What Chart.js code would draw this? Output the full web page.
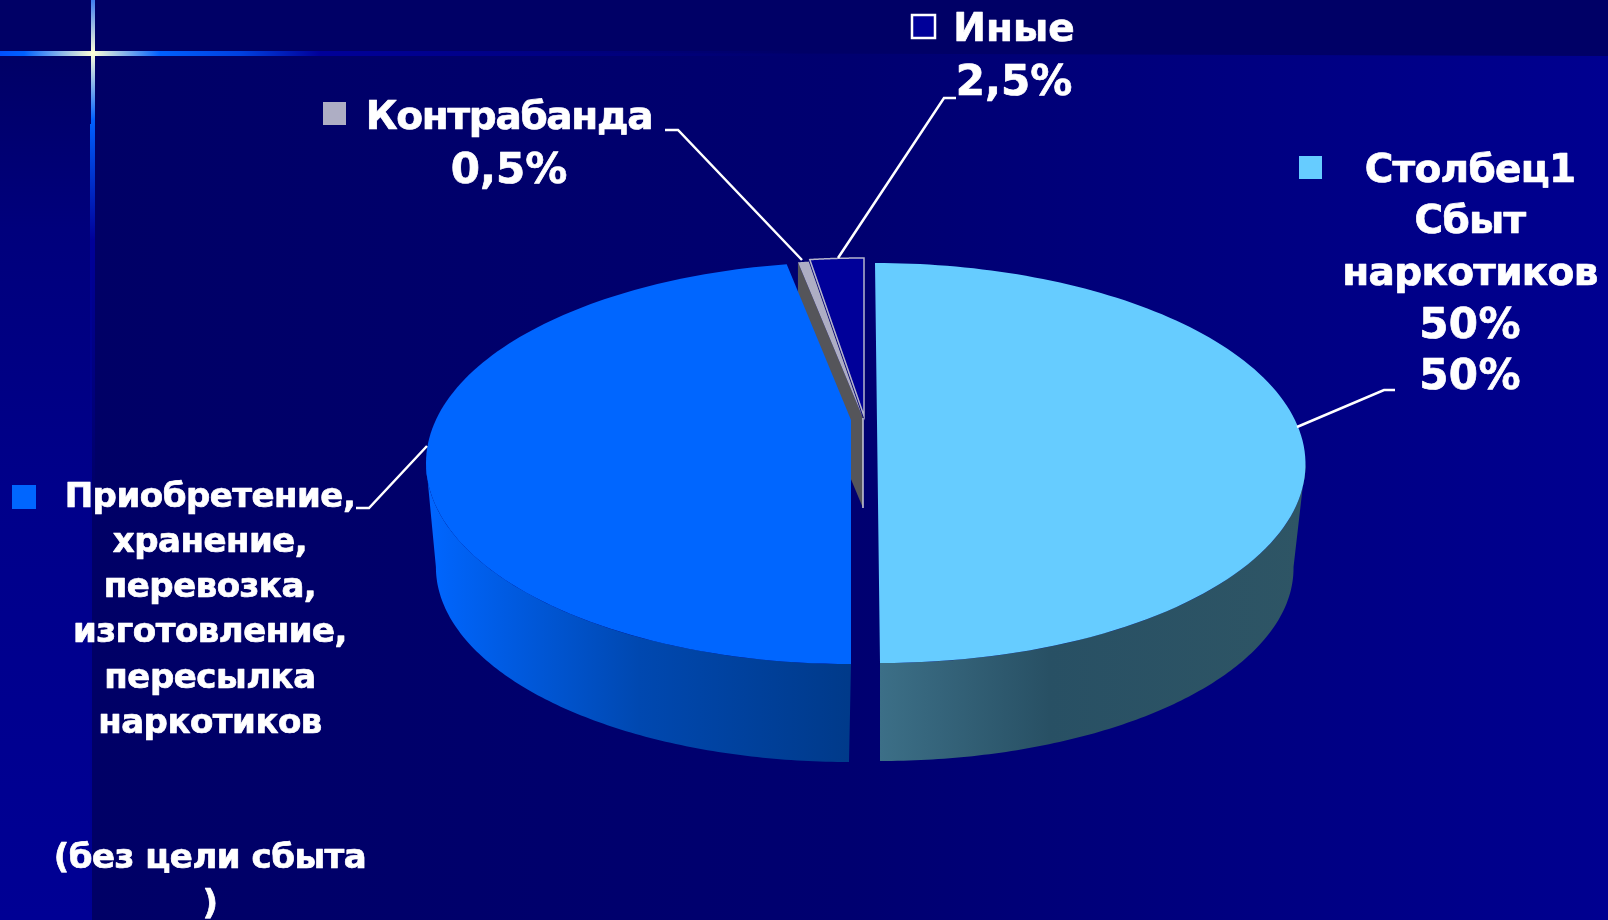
<!DOCTYPE html>
<html>
<head>
<meta charset="utf-8">
<style>
  html, body { margin: 0; padding: 0; background: #000070; overflow: hidden; }
  canvas { display: block; }
</style>
<script src="https://cdn.jsdelivr.net/npm/chart.js@4"></script>
</head>
<body>
<canvas id="pie3d" width="1608" height="920"></canvas>
<script>
  // Chart data
  const categories = ['Столбец1 Сбыт наркотиков 50%', 'Приобретение, хранение, перевозка, изготовление, пересылка наркотиков (без цели сбыта)', 'Контрабанда', 'Иные'];
  const shares = [50, 47, 0.5, 2.5];
  const sliceColors = ['#66ccff', '#0066ff', '#aeaec4', '#000099'];

  // Layout of the tilted pie, one frame per slice (slices are pulled apart a bit)
  const tilt = 0.214;
  const frames = [
    { cx: 877.5, cy: 463, rx: 428, ry: 200, lean: 2.5, drift: 0 },
    { cx: 851, cy: 463, rx: 425, ry: 201, lean: 0, drift: -2 },
    { cx: 863, cy: 461, rx: 430, ry: 201, lean: 0, drift: 0 },
    { cx: 864, cy: 459, rx: 430, ry: 201, lean: 0, drift: 0 }
  ];
  const depthY = 104, shrinkX = 0.972, shrinkY = 0.97;

  // Text blocks: lines are centred on x, y is the middle of the first line
  const labels = [
    { lines: ['Иные'], x: 1014, y: 31, size: 39, step: 0, spacing: 0 },
    { lines: ['2,5%'], x: 1014, y: 84, size: 42, step: 0, spacing: 0 },
    { lines: ['Контрабанда'], x: 509, y: 119, size: 39, step: 0, spacing: -1.3 },
    { lines: ['0,5%'], x: 509, y: 172, size: 42, step: 0, spacing: 0 },
    { lines: ['Столбец1', 'Сбыт', 'наркотиков'], x: 1470, y: 172, size: 39, step: 51.3, spacing: -0.7 },
    { lines: ['50%', '50%'], x: 1470, y: 327, size: 42, step: 51.3, spacing: 0.4 },
    { lines: ['Приобретение,', 'хранение,', 'перевозка,', 'изготовление,', 'пересылка', 'наркотиков', '', '', '(без цели сбыта', ')'], x: 210, y: 498, size: 34, step: 45.2, spacing: -0.5 }
  ];
  const markers = [
    { x: 912, y: 15, size: 23, slice: 3 },
    { x: 323, y: 102, size: 23, slice: 2 },
    { x: 1299, y: 156, size: 23, slice: 0 },
    { x: 12, y: 485, size: 24, slice: 1 }
  ];
  const leaders = [
    [[1297, 427], [1384, 390], [1395, 390]],
    [[427, 446], [369, 508], [356, 508]],
    [[665, 130], [678, 130], [802, 260]],
    [[956, 98], [944, 98], [838, 258]]
  ];

  function project(f, a) {
    const u = Math.sin(a), v = -Math.cos(a), d = 1 - tilt * v;
    const py = (v - tilt) / d;
    return [f.cx + f.rx * u * Math.sqrt(1 - tilt * tilt) / d + f.lean * py, f.cy + f.ry * py];
  }

  function lowerFrame(f) {
    return { cx: f.cx + f.drift, cy: f.cy + depthY, rx: f.rx * shrinkX, ry: f.ry * shrinkY, lean: f.lean };
  }

  function tracePoints(ctx, pts, start) {
    pts.forEach((p, i) => (i === 0 && start ? ctx.moveTo(p[0], p[1]) : ctx.lineTo(p[0], p[1])));
  }

  function arcPoints(f, a0, a1) {
    const pts = [];
    const n = 120;
    for (let i = 0; i <= n; i++) pts.push(project(f, a0 + (a1 - a0) * i / n));
    return pts;
  }

  function drawTop(ctx, arc, i, stroke) {
    const f = frames[i];
    const a0 = arc.startAngle + Math.PI / 2, a1 = arc.endAngle + Math.PI / 2;
    ctx.beginPath();
    ctx.moveTo(f.cx - f.lean * tilt, f.cy - tilt * f.ry);
    tracePoints(ctx, arcPoints(f, a0, a1), false);
    ctx.closePath();
    ctx.fillStyle = sliceColors[i];
    ctx.fill();
    if (stroke) {
      ctx.strokeStyle = stroke;
      ctx.lineWidth = 1.5;
      ctx.stroke();
    }
  }

  function drawSide(ctx, i, a0, a1, x0, x1, stops) {
    const f = frames[i];
    const g = ctx.createLinearGradient(x0, 0, x1, 0);
    stops.forEach(s => g.addColorStop(s[0], s[1]));
    ctx.beginPath();
    tracePoints(ctx, arcPoints(f, a0, a1), true);
    tracePoints(ctx, arcPoints(lowerFrame(f), a1, a0), false);
    ctx.closePath();
    ctx.fillStyle = g;
    ctx.fill();
  }

  function drawBackground(ctx, w, h) {
    let g = ctx.createLinearGradient(92, 0, w, 0);
    g.addColorStop(0, '#000066');
    g.addColorStop(0.5, '#000070');
    g.addColorStop(1, '#000090');
    ctx.fillStyle = g;
    ctx.fillRect(0, 0, w, h);

    // darker band along the top, its edge runs slightly downhill
    ctx.fillStyle = '#000066';
    ctx.beginPath();
    ctx.moveTo(0, 0);
    ctx.lineTo(w, 0);
    ctx.lineTo(w, 56);
    ctx.lineTo(0, 51);
    ctx.closePath();
    ctx.fill();

    // lighter strip on the left
    g = ctx.createLinearGradient(0, 56, 0, h);
    g.addColorStop(0, '#000066');
    g.addColorStop(0.2, '#00007c');
    g.addColorStop(0.5, '#00008a');
    g.addColorStop(1, '#000094');
    ctx.fillStyle = g;
    ctx.fillRect(0, 56, 92, h - 56);

    // the cross in the corner
    g = ctx.createLinearGradient(0, 0, 800, 0);
    g.addColorStop(0, '#0050ff');
    g.addColorStop(0.03, '#0060ff');
    g.addColorStop(0.116, '#ffffd8');
    g.addColorStop(0.2, '#0060ff');
    g.addColorStop(0.3, '#0040e0');
    g.addColorStop(0.4, '#000099');
    g.addColorStop(1, 'rgba(0,0,153,0)');
    ctx.fillStyle = g;
    ctx.fillRect(0, 51, 800, 5);
    g = ctx.createLinearGradient(0, 0, 0, 500);
    g.addColorStop(0, '#3f7df0');
    g.addColorStop(0.106, '#ffffd8');
    g.addColorStop(0.24, '#0060ff');
    g.addColorStop(0.48, '#000099');
    g.addColorStop(1, 'rgba(0,0,153,0)');
    ctx.fillStyle = g;
    ctx.fillRect(91, 0, 4, 124);
    ctx.fillRect(90, 124, 5, 376);
  }

  const pie3dPlugin = {
    id: 'pie3d',
    beforeDatasetsDraw(chart) {
      const ctx = chart.ctx;
      const arcs = chart.getDatasetMeta(0).data;
      ctx.save();
      drawBackground(ctx, chart.width, chart.height);

      // wall of the thin grey slice, seen through the cut
      const gf = frames[2];
      const outer = project(gf, arcs[2].startAngle + Math.PI / 2);
      const apex = [gf.cx, gf.cy - tilt * gf.ry];
      ctx.beginPath();
      ctx.moveTo(outer[0], outer[1]);
      ctx.lineTo(apex[0], apex[1]);
      ctx.lineTo(apex[0], apex[1] + 90);
      ctx.lineTo(outer[0], outer[1] + 90);
      ctx.closePath();
      ctx.fillStyle = '#55555a';
      ctx.fill();
      ctx.strokeStyle = '#c8c8d8';
      ctx.lineWidth = 1.5;
      ctx.beginPath();
      ctx.moveTo(apex[0], apex[1]);
      ctx.lineTo(apex[0], apex[1] + 90);
      ctx.stroke();

      drawTop(ctx, arcs[3], 3, '#b4b4cc');
      drawTop(ctx, arcs[2], 2, null);

      const visible = Math.acos(-tilt);
      drawSide(ctx, 0, Math.PI, visible, 880, 1304, [[0, '#3c6f87'], [0.4, '#285064'], [1, '#2e5565']]);
      drawTop(ctx, arcs[0], 0, null);
      drawSide(ctx, 1, Math.PI, Math.PI * 2 - visible, 849, 430, [[0, '#003a8a'], [0.5, '#0048b0'], [1, '#0066ff']]);
      drawTop(ctx, arcs[1], 1, null);
      ctx.restore();
      return false;
    },
    afterDraw(chart) {
      const ctx = chart.ctx;
      ctx.save();
      ctx.strokeStyle = '#ffffff';
      ctx.lineWidth = 2.5;
      leaders.forEach(pts => {
        ctx.beginPath();
        tracePoints(ctx, pts, true);
        ctx.stroke();
      });
      markers.forEach(m => {
        ctx.fillStyle = sliceColors[m.slice];
        ctx.fillRect(m.x, m.y, m.size, m.size);
        if (m.slice === 3) {
          ctx.strokeStyle = '#ffffff';
          ctx.lineWidth = 2.5;
          ctx.strokeRect(m.x, m.y, m.size, m.size);
        }
      });
      ctx.fillStyle = '#ffffff';
      ctx.strokeStyle = '#ffffff';
      ctx.lineWidth = 0.7;
      ctx.lineJoin = 'round';
      ctx.textAlign = 'center';
      ctx.textBaseline = 'middle';
      labels.forEach(l => {
        ctx.font = 'bold ' + l.size + 'px "DejaVu Sans"';
        ctx.letterSpacing = l.spacing + 'px';
        l.lines.forEach((t, i) => {
          ctx.fillText(t, l.x, l.y + i * l.step);
          ctx.strokeText(t, l.x, l.y + i * l.step);
        });
      });
      ctx.restore();
    }
  };

  new Chart(document.getElementById('pie3d'), {
    type: 'pie',
    data: {
      labels: categories,
      datasets: [{ data: shares, backgroundColor: sliceColors, borderWidth: 0 }]
    },
    options: {
      responsive: false,
      animation: false,
      plugins: { legend: { display: false }, tooltip: { enabled: false } }
    },
    plugins: [pie3dPlugin]
  });
</script>
</body>
</html>
